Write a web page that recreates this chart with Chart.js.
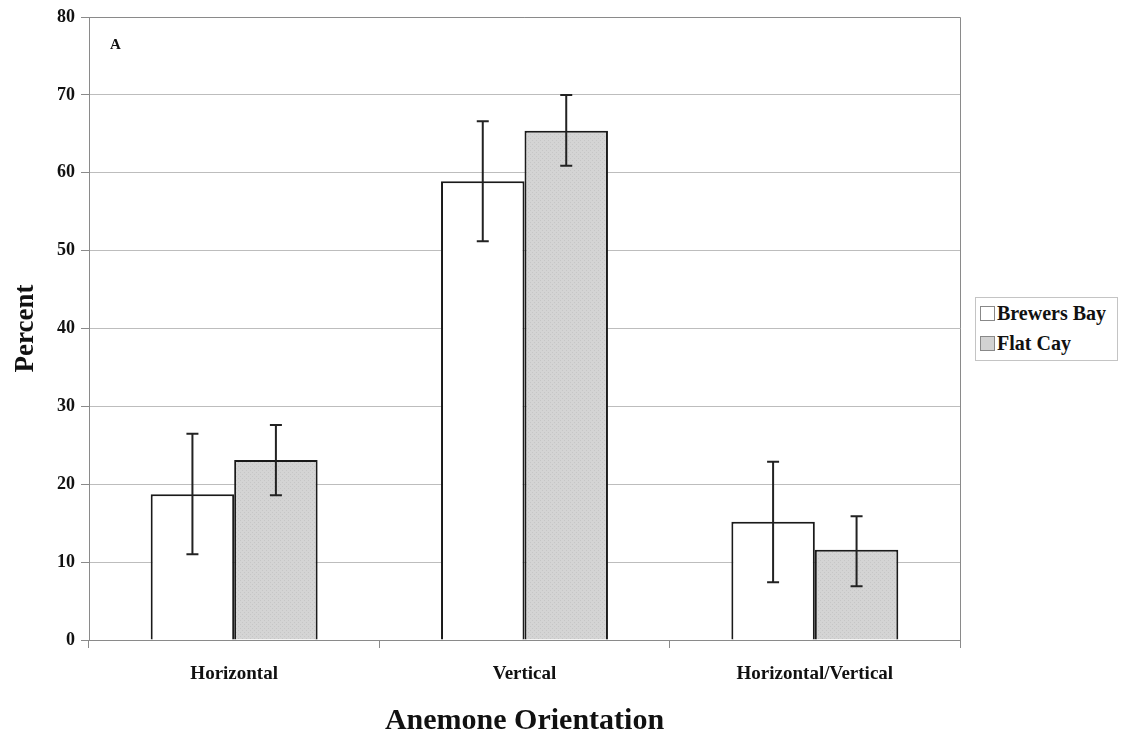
<!DOCTYPE html>
<html>
<head>
<meta charset="utf-8">
<script src="https://cdn.jsdelivr.net/npm/chart.js@4/dist/chart.umd.min.js"></script>
<style>
  html, body { margin: 0; padding: 0; background: #fff; }
  #wrap { position: relative; width: 1124px; height: 738px; }
  #legend {
    position: absolute; left: 975px; top: 297px; width: 141px; height: 62px;
    border: 1px solid #c4c4c4; background: #fff;
    font: bold 20px "Liberation Serif", "Times New Roman", serif; color: #111;
  }
  #legend .row { display: flex; align-items: center; height: 29px; margin-left: 4px; margin-top: 1px; white-space: nowrap; }
  #legend .sw { width: 15px; height: 15px; border: 1px solid #888; margin-right: 2px; box-sizing: border-box; flex: none; }
</style>
</head>
<body>
<div id="wrap">
  <canvas id="chart" width="1124" height="738"></canvas>
  <div id="legend"></div>
</div>
<script>
// data
const categories = ["Horizontal", "Vertical", "Horizontal/Vertical"];
const brewersBay = [18.7, 58.9, 15.2];
const brewersHigh = [26.5, 66.6, 22.9];
const brewersLow = [11.0, 51.2, 7.4];
const flatCay = [23.1, 65.4, 11.6];
const flatHigh = [27.6, 70.0, 15.9];
const flatLow = [18.6, 60.9, 6.9];
const yTicks = [0, 10, 20, 30, 40, 50, 60, 70, 80];

const serif = '"Liberation Serif", "Times New Roman", serif';

const errorBars = {
  id: "errorBars",
  afterDatasetsDraw(chart) {
    const ctx = chart.ctx;
    const y = chart.scales.y;
    ctx.save();
    ctx.strokeStyle = "#222";
    ctx.lineWidth = 2;
    chart.data.datasets.forEach((ds, di) => {
      const meta = chart.getDatasetMeta(di);
      meta.data.forEach((bar, i) => {
        const top = y.getPixelForValue(ds.errHigh[i]);
        const bot = y.getPixelForValue(ds.errLow[i]);
        ctx.beginPath();
        ctx.moveTo(bar.x, top); ctx.lineTo(bar.x, bot);
        ctx.moveTo(bar.x - 6, top); ctx.lineTo(bar.x + 6, top);
        ctx.moveTo(bar.x - 6, bot); ctx.lineTo(bar.x + 6, bot);
        ctx.stroke();
      });
    });
    ctx.restore();
  }
};

const frame = {
  id: "frame",
  beforeDatasetsDraw(chart) {
    const { ctx, chartArea: a } = chart;
    ctx.save();
    ctx.strokeStyle = "#8a8a8a";
    ctx.lineWidth = 1;
    ctx.beginPath();
    ctx.moveTo(a.left, a.top + 0.5); ctx.lineTo(a.right + 0.5, a.top + 0.5);
    ctx.lineTo(a.right + 0.5, a.bottom);
    ctx.stroke();
    ctx.fillStyle = "#111";
    ctx.font = "bold 15px " + serif;
    ctx.textBaseline = "middle";
    ctx.fillText("A", a.left + 21, a.top + 28);
    ctx.restore();
  }
};

// light dotted grey fill like the original print
function greyPattern() {
  const c = document.createElement("canvas");
  c.width = 4; c.height = 4;
  const g = c.getContext("2d");
  g.fillStyle = "#d4d4d4";
  g.fillRect(0, 0, 4, 4);
  g.fillStyle = "#c6c6c6";
  g.fillRect(0, 0, 1, 1); g.fillRect(2, 2, 1, 1);
  return g.createPattern(c, "repeat");
}

const ctx = document.getElementById("chart").getContext("2d");
const chart = new Chart(ctx, {
  type: "bar",
  data: {
    labels: categories,
    datasets: [
      {
        label: "Brewers Bay",
        data: brewersBay,
        errHigh: brewersHigh,
        errLow: brewersLow,
        backgroundColor: "#ffffff",
        borderColor: "#1a1a1a",
        borderWidth: 2,
        categoryPercentage: 0.575,
        barPercentage: 1.0
      },
      {
        label: "Flat Cay",
        data: flatCay,
        errHigh: flatHigh,
        errLow: flatLow,
        backgroundColor: greyPattern(),
        borderColor: "#1a1a1a",
        borderWidth: 2,
        categoryPercentage: 0.575,
        barPercentage: 1.0
      }
    ]
  },
  options: {
    responsive: false,
    animation: false,
    layout: { padding: { top: 17, right: 164, left: 0, bottom: 0 } },
    plugins: {
      legend: { display: false },
      tooltip: { enabled: false }
    },
    scales: {
      x: {
        grid: { drawOnChartArea: false, drawTicks: true, tickLength: 8, color: "#8a8a8a", offset: true },
        border: { color: "#8a8a8a", width: 1 },
        ticks: { color: "#111", padding: 15, font: { family: serif, size: 19, weight: "bold" } },
        title: { display: true, text: "Anemone Orientation", color: "#111", padding: { top: 10, bottom: 0 }, font: { family: serif, size: 30, weight: "bold", lineHeight: 1.1 } },
        afterFit(s) { s.height = 98; }
      },
      y: {
        min: 0,
        max: 80,
        afterBuildTicks(s) { s.ticks = yTicks.map(v => ({ value: v })); },
        grid: { color: "#bdbdbd", tickLength: 8, tickColor: "#8a8a8a" },
        border: { color: "#8a8a8a", width: 1 },
        ticks: { color: "#111", padding: 6, font: { family: serif, size: 18, weight: "bold" } },
        title: { display: true, text: "Percent", color: "#111", padding: { top: 10, bottom: 0 }, font: { family: serif, size: 27, weight: "bold" } },
        afterFit(s) { s.width = 89; }
      }
    }
  },
  plugins: [frame, errorBars]
});

// legend as html, built from the datasets
const legend = document.getElementById("legend");
const swatchFill = ["#ffffff", "#d2d2d2"];
chart.data.datasets.forEach((ds, i) => {
  const row = document.createElement("div");
  row.className = "row";
  const sw = document.createElement("span");
  sw.className = "sw";
  sw.style.background = swatchFill[i];
  const txt = document.createElement("span");
  txt.textContent = ds.label;
  row.appendChild(sw);
  row.appendChild(txt);
  legend.appendChild(row);
});
</script>
</body>
</html>
